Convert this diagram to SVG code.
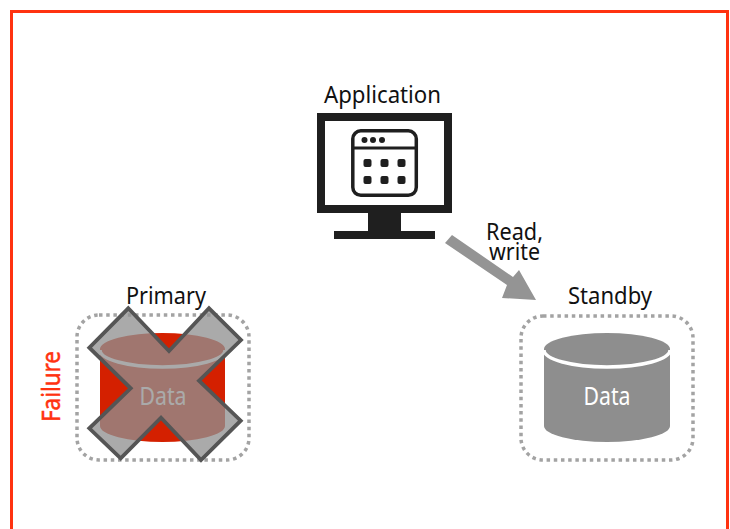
<svg xmlns="http://www.w3.org/2000/svg" width="730" height="529" viewBox="0 0 730 529">
<style>
text{font-family:"Noto Sans","Open Sans","Liberation Sans",sans-serif;font-size:24px;fill:#111;text-anchor:middle}
.data{font-size:26px;fill:#fff}
.box{fill:none;stroke:#a3a3a3;stroke-width:3.5;stroke-dasharray:3.5 3.7}
.k{fill:#1f1f1f}
.arc{fill:none;stroke:#fff;stroke-width:3.5}
</style>
<rect width="730" height="529" fill="#fff"/>
<path id="frame" d="M11.5 529V11.5H727.5V529" fill="none" stroke="#ff3210" stroke-width="3"/>
<g id="application">
<path class="k" fill-rule="evenodd" d="M317 113H452V213H401V231H435V239H334V231H368V213H317ZM325 121V205H444V121Z"/>
<rect x="352.800" y="130.800" width="63.500" height="64.500" rx="8" fill="none" stroke="#1f1f1f" stroke-width="3.500"/>
<path d="M352 148H417" stroke="#1f1f1f" stroke-width="2.800"/>
<g class="k"><circle cx="364.500" cy="140" r="3"/><circle cx="373" cy="140" r="3"/><circle cx="382" cy="140" r="3"/>
<rect x="363.500" y="159" width="8" height="8" rx="2"/><rect x="380.500" y="159" width="8" height="8" rx="2"/><rect x="397.500" y="159" width="8" height="8" rx="2"/>
<rect x="363.500" y="176" width="8" height="8" rx="2"/><rect x="380.500" y="176" width="8" height="8" rx="2"/><rect x="397.500" y="176" width="8" height="8" rx="2"/></g>
<text x="382.500" y="103" textLength="117" lengthAdjust="spacingAndGlyphs">Application</text>
</g>
<g id="connectors">
<polygon fill="#949494" points="445,243 452,235 513,277 519,270 536,300 502,298 507,285"/>
<text x="514.500" y="240" textLength="57" lengthAdjust="spacingAndGlyphs">Read,</text>
<text x="514.500" y="260" textLength="51" lengthAdjust="spacingAndGlyphs">write</text>
</g>
<g id="primary">
<rect class="box" x="77" y="315" width="172" height="145" rx="22"/>
<path fill="#d42000" d="M100 349A62.500 16 0 0 1 225 349V426A62.500 16 0 0 1 100 426Z"/>
<path class="arc" d="M100 350A62.500 17 0 0 0 225 350"/>
<text class="data" x="163" y="405" textLength="47" lengthAdjust="spacingAndGlyphs">Data</text>
<polygon fill="#909090" fill-opacity=".77" stroke="#555" stroke-width="3.800" stroke-linejoin="miter" points="128.300,308.300 169,351 209,308.300 241,340 199,380.700 240.700,420.700 201,460 161,417.700 120.700,458.300 89.300,428.300 130.700,388.300 89.300,347.700"/>
<text x="166" y="304" textLength="80" lengthAdjust="spacingAndGlyphs">Primary</text>
<text transform="translate(60 386.500) rotate(-90)" x="0" y="0" textLength="71" lengthAdjust="spacingAndGlyphs" style="fill:#ff3210;font-size:26px;stroke:#ff3210;stroke-width:.5">Failure</text>
</g>
<g id="standby">
<rect class="box" x="521" y="316" width="172" height="144" rx="22"/>
<path fill="#8e8e8e" d="M544 349A63 16 0 0 1 670 349V426A63 16 0 0 1 544 426Z"/>
<path class="arc" d="M544 350A63 17 0 0 0 670 350"/>
<text class="data" x="607" y="405" textLength="47" lengthAdjust="spacingAndGlyphs">Data</text>
<text x="610" y="304" textLength="84" lengthAdjust="spacingAndGlyphs">Standby</text>
</g>
</svg>
